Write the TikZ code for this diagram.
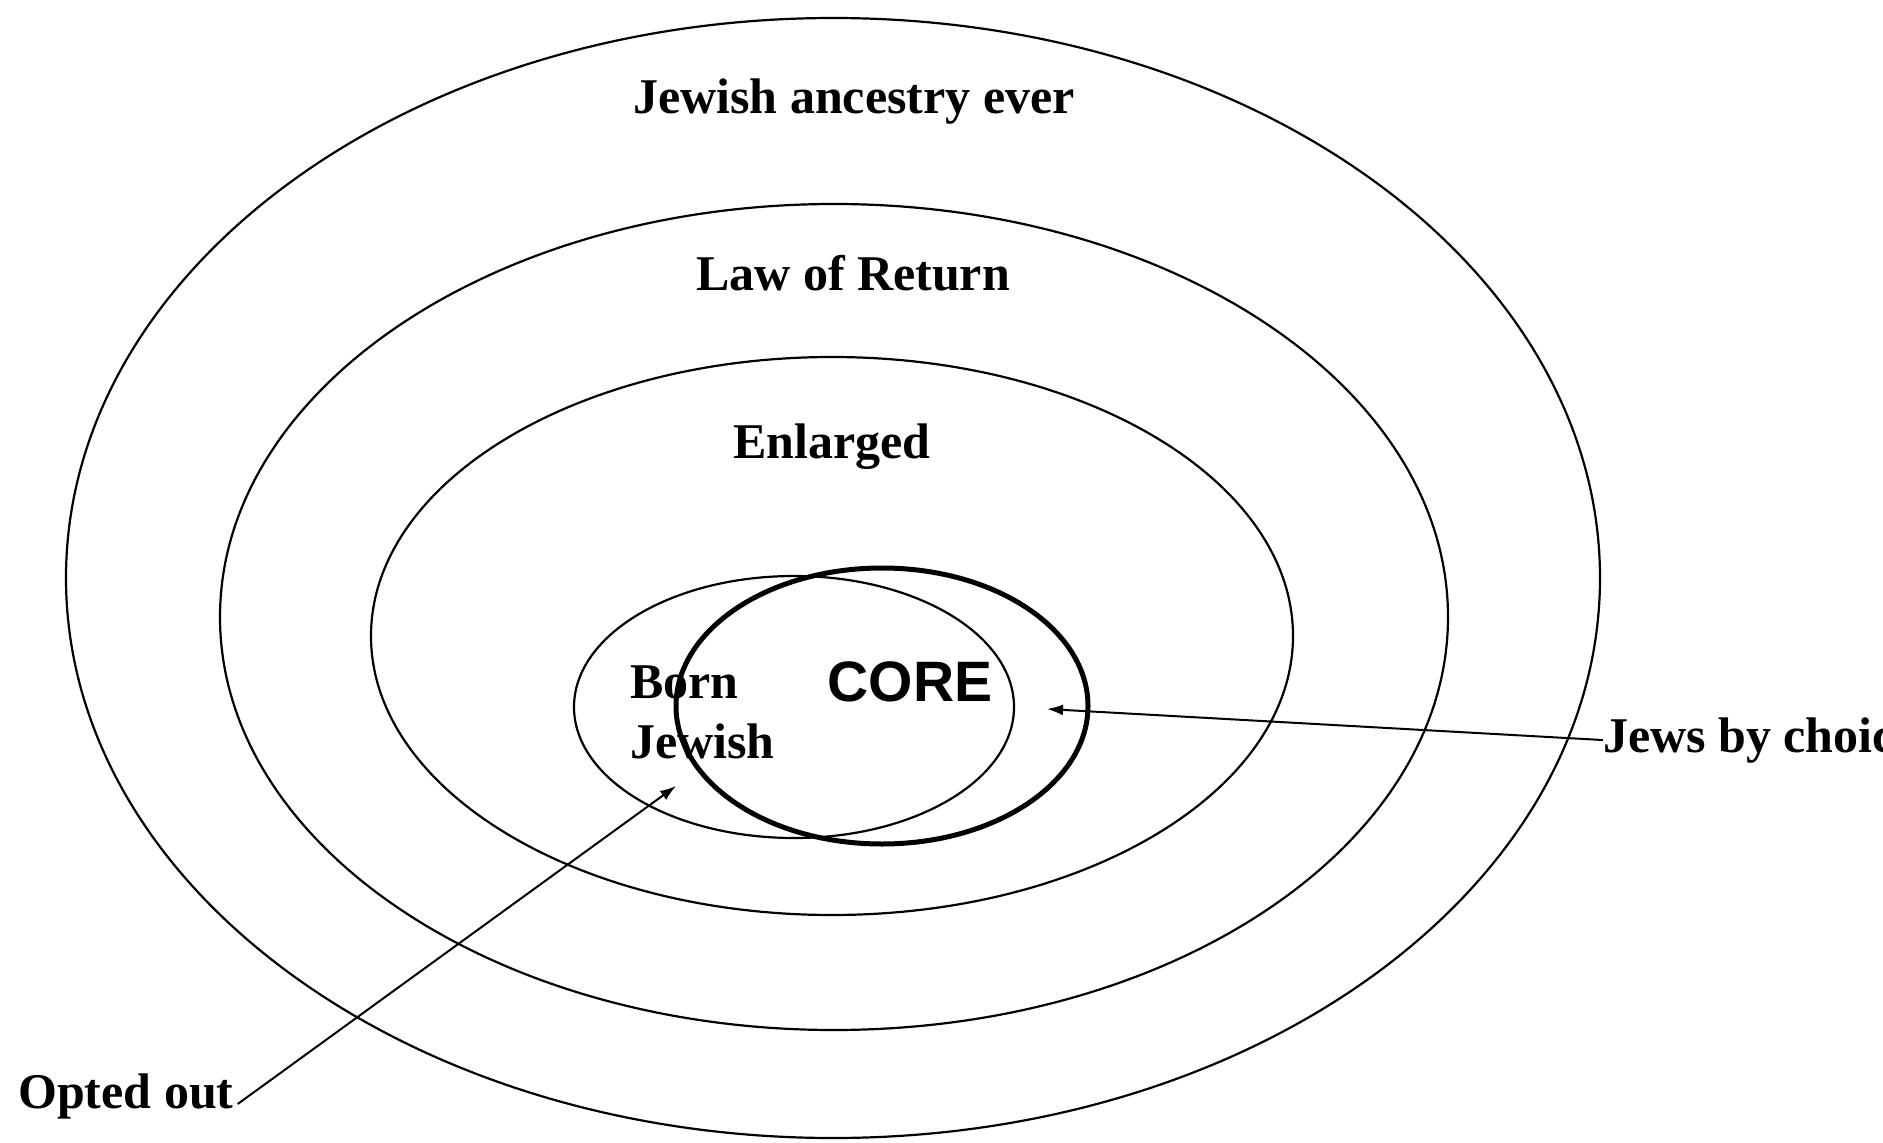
\documentclass[tikz,border=0pt]{standalone}
\usepackage{fontspec}
\setmainfont{Liberation Serif}
\newfontfamily\coresans{Liberation Sans}
\usetikzlibrary{arrows.meta,shapes.geometric}
\begin{document}
\begin{tikzpicture}[x=1pt,y=-1pt,
  ring/.style={draw, ellipse, inner sep=0pt, line width=2.2pt},
  corering/.style={draw, ellipse, inner sep=0pt, line width=5pt},
  lbl/.style={font=\fontsize{50}{60}\selectfont\bfseries, inner sep=0pt},
  pointer/.style={line width=2pt, -{Latex[length=16pt,width=11pt]}}]
\useasboundingbox (0,0) rectangle (1883,1143);
\clip (0,0) rectangle (1883,1143);
\node[ring, minimum width=1534pt, minimum height=1120pt] (ancestry) at (833,578) {};
\node[ring, minimum width=1228pt, minimum height=826pt] (lawreturn) at (834,617) {};
\node[ring, minimum width=922pt, minimum height=558pt] (enlarged) at (832,636) {};
\node[ring, minimum width=440pt, minimum height=262pt] (born) at (794,707) {};
\node[corering, minimum width=412pt, minimum height=276pt] (core) at (882,706) {};
\node[lbl] (tancestry) at (854,102) {Jewish ancestry ever};
\node[lbl] (tlaw) at (853,273) {Law of Return};
\node[lbl] (tenl) at (832,447) {Enlarged};
\node[lbl, anchor=base west] (tborn) at (630,698) {Born};
\node[lbl, anchor=base west] (tjewish) at (630,758) {Jewish};
\node[inner sep=0pt, font=\fontsize{57}{60}\selectfont\coresans\bfseries] (tcore) at (910,682) {CORE};
\node[lbl, anchor=base west] (tchoice) at (1603,752) {Jews by choice};
\node[lbl, anchor=base west] (topted) at (18,1108) {Opted out};
\coordinate (choicetip) at (1047,709);
\coordinate (optedtip) at (676,786);
\draw[pointer] (tchoice.west) -- (choicetip);
\draw[pointer] ([xshift=4pt,yshift=-8pt]topted.east) -- (optedtip);
\end{tikzpicture}
\end{document}
